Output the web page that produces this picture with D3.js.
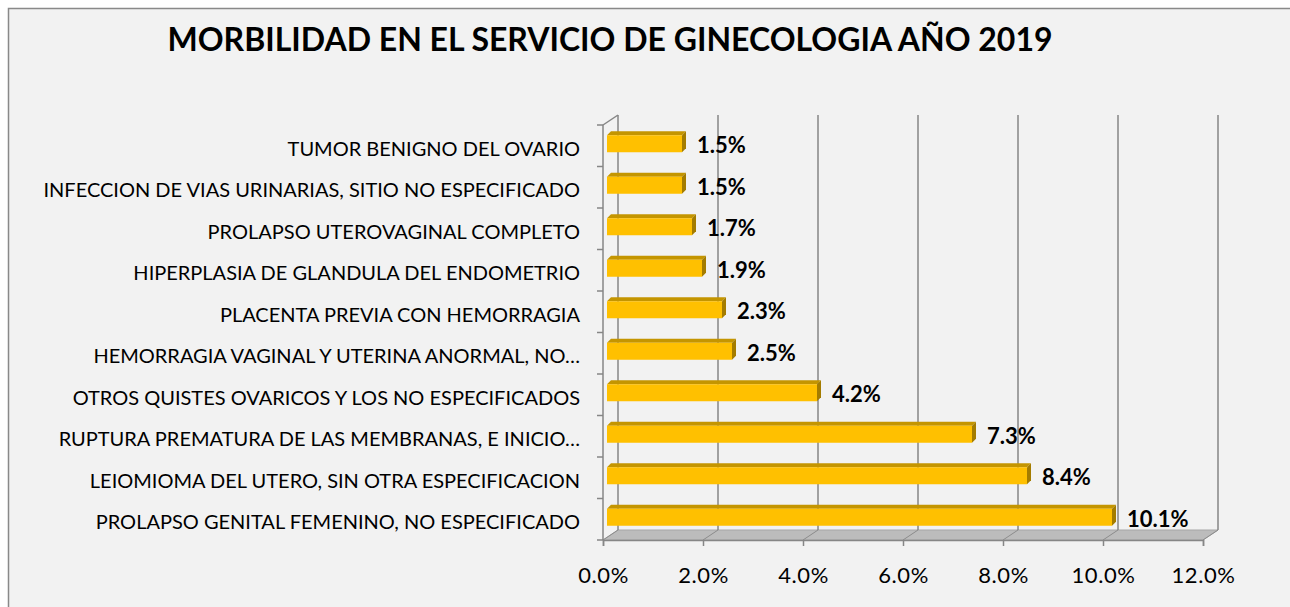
<!DOCTYPE html>
<html>
<head>
<meta charset="utf-8">
<script src="https://cdn.jsdelivr.net/npm/d3@7"></script>
<style>
  body { margin: 0; background: #fff; }
  text { font-family: Lato, "Open Sans", sans-serif; }
</style>
</head>
<body>
<div id="chart"></div>
<script>
var categories = [
    "TUMOR BENIGNO DEL OVARIO",
    "INFECCION DE VIAS URINARIAS, SITIO NO ESPECIFICADO",
    "PROLAPSO UTEROVAGINAL COMPLETO",
    "HIPERPLASIA DE GLANDULA DEL ENDOMETRIO",
    "PLACENTA PREVIA CON HEMORRAGIA",
    "HEMORRAGIA VAGINAL Y UTERINA ANORMAL, NO…",
    "OTROS QUISTES OVARICOS Y LOS NO ESPECIFICADOS",
    "RUPTURA PREMATURA DE LAS MEMBRANAS, E INICIO…",
    "LEIOMIOMA DEL UTERO, SIN OTRA ESPECIFICACION",
    "PROLAPSO GENITAL FEMENINO, NO ESPECIFICADO"
];
var values = [1.5, 1.5, 1.7, 1.9, 2.3, 2.5, 4.2, 7.3, 8.4, 10.1];
var xTicks = [0, 2, 4, 6, 8, 10, 12];
var title = "MORBILIDAD EN EL SERVICIO DE GINECOLOGIA AÑO 2019";

var W = 1290, H = 607;
var depthX = 15, depthY = -10;   // back wall offset
var barDX = 4, barDY = -4;       // bar 3d depth

var svg = d3.select("#chart").append("svg")
    .attr("width", W)
    .attr("height", H);

svg.append("rect")
    .attr("x", 8.5).attr("y", 8.5)
    .attr("width", 1300).attr("height", 620)
    .attr("fill", "#f2f2f2")
    .attr("stroke", "#898989")
    .attr("stroke-width", 1.5);

svg.append("text")
    .attr("x", 610)
    .attr("y", 51)
    .attr("text-anchor", "middle")
    .style("font-size", "32px")
    .style("font-weight", "bold")
    .text(title);

var x = d3.scaleLinear().domain([0, 12]).range([603, 1203]);
var y = d3.scaleBand().domain(categories).range([125, 540]);

var x0 = x(0), x1 = x(12), yTop = y.range()[0], yBot = y.range()[1];

// floor
svg.append("path")
    .attr("d", "M" + x0 + "," + yBot + "L" + x1 + "," + yBot +
        "L" + (x1 + depthX) + "," + (yBot + depthY) + "L" + (x0 + depthX) + "," + (yBot + depthY) + "Z")
    .attr("fill", "#bcbcbc")
    .attr("stroke", "#a6a6a6");

// back wall gridlines + floor diagonals
var grid = svg.append("g").attr("stroke", "#868686").attr("stroke-width", 1.5);
xTicks.forEach(function(t) {
    grid.append("line")
        .attr("x1", x(t) + depthX).attr("x2", x(t) + depthX)
        .attr("y1", yTop + depthY).attr("y2", yBot + depthY);
    grid.append("line")
        .attr("x1", x(t) + depthX).attr("x2", x(t))
        .attr("y1", yBot + depthY).attr("y2", yBot)
        .attr("stroke", "#8c8c8c").attr("stroke-width", 1);
});

// left wall edges
grid.append("line")
    .attr("x1", x0).attr("x2", x0 + depthX)
    .attr("y1", yTop).attr("y2", yTop + depthY);
grid.append("line")
    .attr("x1", x0).attr("x2", x0)
    .attr("y1", yTop).attr("y2", yBot);

// category tick marks at band boundaries
categories.concat([null]).forEach(function(c) {
    var ty = c ? y(c) : yBot;
    grid.append("line")
        .attr("x1", x0 - 6).attr("x2", x0)
        .attr("y1", ty).attr("y2", ty);
});

// x axis
var xAxis = svg.append("g")
    .attr("transform", "translate(0," + yBot + ")")
    .call(d3.axisBottom(x).tickValues(xTicks).tickSize(6).tickPadding(21)
        .tickFormat(function(d) { return d3.format(".1%")(d / 100); }));
xAxis.select(".domain").attr("stroke", "#868686").attr("stroke-width", 1.5);
xAxis.selectAll(".tick line").attr("stroke", "#868686").attr("stroke-width", 1.5);
xAxis.selectAll(".tick text")
    .attr("fill", "#000")
    .style("font-size", "22px")
    .style("letter-spacing", "0.6px")
    .style("font-family", "Lato, sans-serif");

// category labels
svg.append("g").selectAll("text")
    .data(categories)
    .join("text")
    .attr("x", 580)
    .attr("y", function(d) { return y(d) + y.bandwidth() / 2 + 2; })
    .attr("text-anchor", "end")
    .attr("dominant-baseline", "central")
    .style("font-size", "20px")
    .text(function(d) { return d; });

// bars
var barH = 17;
var bars = svg.append("g").selectAll("g")
    .data(categories.map(function(c, i) { return { c: c, v: values[i] }; }))
    .join("g");

function fy(d) { return y(d.c) + y.bandwidth() / 2 - 2 - barH / 2; }
function fx0() { return x(0) + 4; }
function fx1(d) { return x(d.v) + 4; }

bars.append("path")
    .attr("d", function(d) {
        var a = fx0(), b = fx1(d), t = fy(d);
        return "M" + a + "," + t + "L" + (a + barDX) + "," + (t + barDY) +
            "L" + (b + barDX) + "," + (t + barDY) + "L" + b + "," + t + "Z";
    })
    .attr("fill", "#c49500");

bars.append("path")
    .attr("d", function(d) {
        var b = fx1(d), t = fy(d);
        return "M" + b + "," + t + "L" + (b + barDX) + "," + (t + barDY) +
            "L" + (b + barDX) + "," + (t + barDY + barH) + "L" + b + "," + (t + barH) + "Z";
    })
    .attr("fill", "#a47c00");

bars.append("rect")
    .attr("x", fx0)
    .attr("y", fy)
    .attr("width", function(d) { return fx1(d) - fx0(); })
    .attr("height", barH)
    .attr("fill", "#ffc000");

bars.append("text")
    .attr("x", function(d) { return fx1(d) + 15; })
    .attr("y", function(d) { return fy(d) + barH / 2 + 1; })
    .attr("dominant-baseline", "central")
    .style("font-size", "22px")
    .style("font-weight", "bold")
    .text(function(d) { return d3.format(".1f")(d.v) + "%"; });
</script>
</body>
</html>
